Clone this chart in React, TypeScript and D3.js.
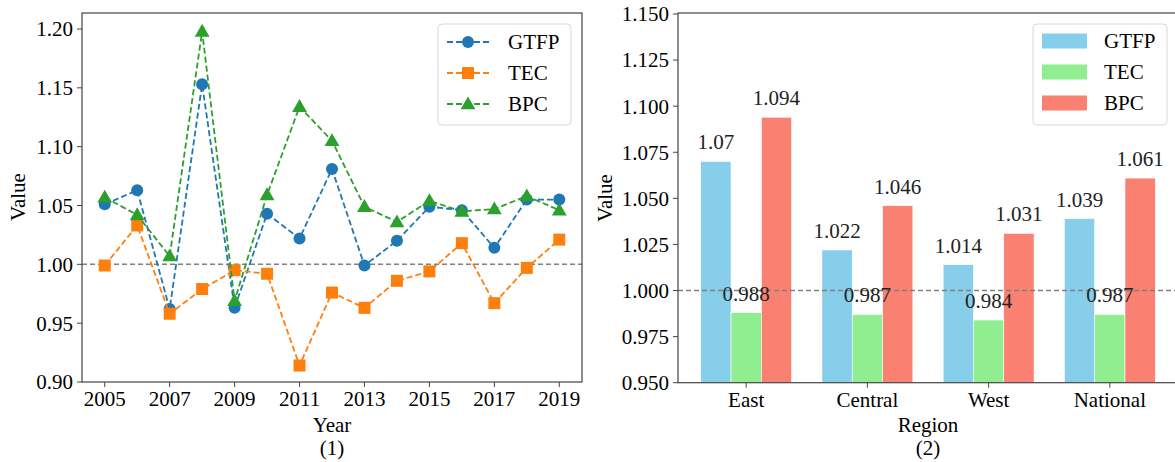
import * as d3 from "d3";

// Panel (1): yearly indices
const years = [2005, 2006, 2007, 2008, 2009, 2010, 2011, 2012, 2013, 2014, 2015, 2016, 2017, 2018, 2019];
const gtfpYearly = [1.051, 1.063, 0.962, 1.153, 0.963, 1.043, 1.022, 1.081, 0.999, 1.020, 1.049, 1.046, 1.014, 1.055, 1.055];
const tecYearly = [0.999, 1.033, 0.958, 0.979, 0.995, 0.992, 0.914, 0.976, 0.963, 0.986, 0.994, 1.018, 0.967, 0.997, 1.021];
const bpcYearly = [1.057, 1.042, 1.007, 1.198, 0.969, 1.059, 1.134, 1.105, 1.049, 1.036, 1.054, 1.045, 1.047, 1.058, 1.046];
const yearTicks = [2005, 2007, 2009, 2011, 2013, 2015, 2017, 2019];
const leftYTicks = [0.9, 0.95, 1.0, 1.05, 1.1, 1.15, 1.2];

// Panel (2): regional averages
const regions = ["East", "Central", "West", "National"];
const gtfpRegion = [1.07, 1.022, 1.014, 1.039];
const tecRegion = [0.988, 0.987, 0.984, 0.987];
const bpcRegion = [1.094, 1.046, 1.031, 1.061];
const rightYTicks = [0.95, 0.975, 1.0, 1.025, 1.05, 1.075, 1.1, 1.125, 1.15];

const FONT = "'Liberation Serif', 'Times New Roman', serif";
const FS = 21;
const SPINE = "#444";

type LineSeries = { name: string; values: number[]; color: string; marker: "circle" | "square" | "triangle" };
const lineSeries: LineSeries[] = [
    { name: "GTFP", values: gtfpYearly, color: "#1f77b4", marker: "circle" },
    { name: "TEC", values: tecYearly, color: "#ff7f0e", marker: "square" },
    { name: "BPC", values: bpcYearly, color: "#2ca02c", marker: "triangle" },
];
const barSeries = [
    { name: "GTFP", values: gtfpRegion, color: "#87ceeb" },
    { name: "TEC", values: tecRegion, color: "#90ee90" },
    { name: "BPC", values: bpcRegion, color: "#fa8072" },
];

function Marker({ kind, x, y, color }: { kind: string; x: number; y: number; color: string }) {
    if (kind === "circle") return <circle cx={x} cy={y} r={6} fill={color} />;
    if (kind === "square") return <rect x={x - 6} y={y - 6} width={12} height={12} fill={color} />;
    const s = d3.symbol(d3.symbolTriangle, 95)();
    return <path d={s ?? ""} transform={`translate(${x},${y + 1})`} fill={color} />;
}

function LinePanel() {
    const x = d3.scaleLinear().domain([2004.3, 2019.7]).range([82, 582]);
    const y = d3.scaleLinear().domain([0.9, 1.2]).range([382, 29]);
    const top = 13;
    const line = d3.line<number>().x((_, i) => x(years[i])).y(v => y(v));
    return <g>
        <line x1={82} x2={582} y1={y(1)} y2={y(1)} stroke="#808080" strokeWidth={1.5} strokeDasharray="5,3" />
        {lineSeries.map(s => <g key={s.name}>
            <path d={line(s.values) ?? ""} fill="none" stroke={s.color} strokeWidth={1.8} strokeDasharray="6,3" />
            {s.values.map((v, i) => <Marker key={i} kind={s.marker} x={x(years[i])} y={y(v)} color={s.color} />)}
        </g>)}
        <rect x={82} y={top} width={500} height={382 - top} fill="none" stroke={SPINE} strokeWidth={1.2} />
        {leftYTicks.map(t => <g key={t}>
            <line x1={77} x2={82} y1={y(t)} y2={y(t)} stroke={SPINE} />
            <text x={73} y={y(t)} dy="0.35em" textAnchor="end" fontSize={FS} fontFamily={FONT}>{t.toFixed(2)}</text>
        </g>)}
        {yearTicks.map(t => <g key={t}>
            <line x1={x(t)} x2={x(t)} y1={382} y2={387} stroke={SPINE} />
            <text x={x(t)} y={406} textAnchor="middle" fontSize={FS} fontFamily={FONT}>{t}</text>
        </g>)}
        <text transform="translate(25,197) rotate(-90)" textAnchor="middle" fontSize={FS} fontFamily={FONT}>Value</text>
        <text x={332} y={432} textAnchor="middle" fontSize={FS} fontFamily={FONT}>Year</text>
        <text x={332} y={455} textAnchor="middle" fontSize={FS} fontFamily={FONT}>(1)</text>
        <rect x={438} y={24} width={133} height={101} rx={4} fill="white" fillOpacity={0.8} stroke="#d8d8d8" />
        {lineSeries.map((s, i) => {
            const ly = 42 + i * 31;
            return <g key={s.name}>
                <line x1={447} x2={490} y1={ly} y2={ly} stroke={s.color} strokeWidth={1.8} strokeDasharray="6,3" />
                <Marker kind={s.marker} x={468} y={ly} color={s.color} />
                <text x={508} y={ly} dy="0.35em" fontSize={FS} fontFamily={FONT}>{s.name}</text>
            </g>;
        })}
    </g>;
}

function BarPanel() {
    const x0 = d3.scaleBand().domain(regions).range([678 + 68.2 - 60.65, 1178 - 68.2 + 60.65]).paddingInner(0).paddingOuter(0);
    const bw = x0.bandwidth() * 0.25;
    const y = d3.scaleLinear().domain([0.95, 1.15]).range([382.7, 14]);
    const left = 678, right = 1178, top = 13, bottom = 382.7;
    return <g>
        {barSeries.map((s, k) => s.values.map((v, i) => {
            const cx = (x0(regions[i]) ?? 0) + x0.bandwidth() / 2 + (k - 1) * bw;
            return <rect key={`${k}-${i}`} x={cx - bw / 2} y={y(v)} width={bw} height={bottom - y(v)} fill={s.color} stroke="white" strokeWidth={0.6} />;
        }))}
        <line x1={left} x2={right} y1={y(1)} y2={y(1)} stroke="#808080" strokeWidth={1.5} strokeDasharray="5,3" />
        {barSeries.map((s, k) => s.values.map((v, i) => {
            const cx = (x0(regions[i]) ?? 0) + x0.bandwidth() / 2 + (k - 1) * bw;
            return <text key={`t${k}-${i}`} x={cx} y={y(v) - 12} textAnchor="middle" fontSize={FS} fontFamily={FONT} fill="#222">{String(v)}</text>;
        }))}
        <rect x={left} y={top} width={right - left} height={bottom - top} fill="none" stroke={SPINE} strokeWidth={1.2} />
        {rightYTicks.map(t => <g key={t}>
            <line x1={left - 5} x2={left} y1={y(t)} y2={y(t)} stroke={SPINE} />
            <text x={left - 9} y={y(t)} dy="0.35em" textAnchor="end" fontSize={FS} fontFamily={FONT}>{t.toFixed(3)}</text>
        </g>)}
        {regions.map(r => {
            const cx = (x0(r) ?? 0) + x0.bandwidth() / 2;
            return <g key={r}>
                <line x1={cx} x2={cx} y1={bottom} y2={bottom + 5} stroke={SPINE} />
                <text x={cx} y={407} textAnchor="middle" fontSize={FS} fontFamily={FONT}>{r}</text>
            </g>;
        })}
        <text transform="translate(612,198) rotate(-90)" textAnchor="middle" fontSize={FS} fontFamily={FONT}>Value</text>
        <text x={928} y={432} textAnchor="middle" fontSize={FS} fontFamily={FONT}>Region</text>
        <text x={928} y={455} textAnchor="middle" fontSize={FS} fontFamily={FONT}>(2)</text>
        <rect x={1033} y={24} width={134} height={101} rx={4} fill="white" fillOpacity={0.8} stroke="#d8d8d8" />
        {barSeries.map((s, i) => {
            const ly = 41 + i * 31;
            return <g key={s.name}>
                <rect x={1042} y={ly - 7.5} width={45} height={15} fill={s.color} />
                <text x={1104} y={ly} dy="0.35em" fontSize={FS} fontFamily={FONT}>{s.name}</text>
            </g>;
        })}
    </g>;
}

export default function App() {
    return <svg width={1175} height={462} style={{ position: "absolute", left: 0, top: 0, background: "white" }}>
        <rect width={1175} height={462} fill="white" />
        <LinePanel />
        <BarPanel />
    </svg>;
}
